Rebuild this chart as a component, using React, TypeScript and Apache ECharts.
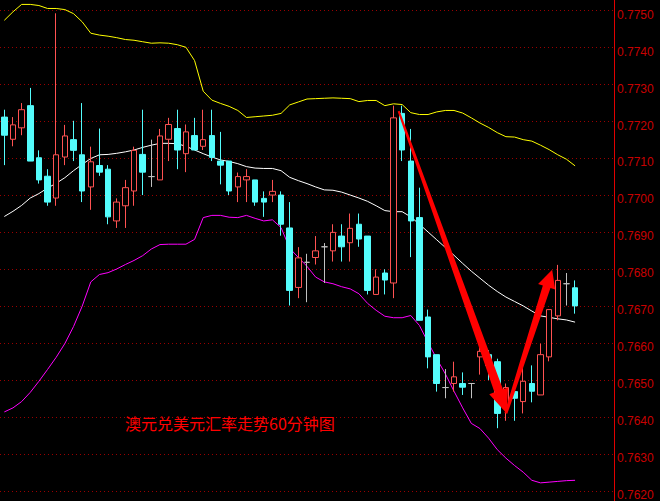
import React, { useEffect, useRef } from 'react';
import * as echarts from 'echarts';

// 71 hourly slots (the last few are empty space before the price axis)
const CATEGORIES: string[] = Array.from({ length: 71 }, (_, i) => `H${i + 1}`);

const OPEN = [
  0.77212, 0.77152, 0.77183, 0.77243, 0.77102, 0.77052, 0.76993, 0.77104, 0.77151, 0.77110,
  0.77023, 0.77081, 0.77071, 0.76931, 0.76972, 0.77012, 0.77111, 0.77051, 0.77042, 0.77152,
  0.77181, 0.77113, 0.77162, 0.77133, 0.77162, 0.77093, 0.77093, 0.77023, 0.77042, 0.77042,
  0.76992, 0.77001, 0.77001, 0.76912, 0.76751, 0.76819, 0.76832, 0.76861, 0.76850, 0.76890,
  0.76872, 0.76922, 0.76890, 0.76732, 0.76790, 0.76763, 0.77222, 0.77093, 0.76940, 0.76671,
  0.76569, 0.76480, 0.76491, 0.76491, 0.76491, 0.76563, 0.76569, 0.76550, 0.76424, 0.76469,
  0.76442, 0.76491, 0.76460, 0.76563, 0.76674, 0.76761, 0.76750,
];
const CLOSE = [
  0.77163, 0.77191, 0.77232, 0.77093, 0.77042, 0.76982, 0.77110, 0.77161, 0.77122, 0.77012,
  0.77091, 0.77063, 0.76942, 0.76982, 0.77021, 0.77122, 0.77063, 0.77051, 0.77161, 0.77192,
  0.77123, 0.77172, 0.77123, 0.77151, 0.77103, 0.77082, 0.77012, 0.77051, 0.77051, 0.76982,
  0.76982, 0.77011, 0.76922, 0.76743, 0.76831, 0.76819, 0.76850, 0.76861, 0.76900, 0.76861,
  0.76911, 0.76882, 0.76743, 0.76779, 0.76771, 0.77210, 0.77123, 0.76931, 0.76662, 0.76563,
  0.76491, 0.76480, 0.76509, 0.76481, 0.76491, 0.76578, 0.76540, 0.76410, 0.76480, 0.76451,
  0.76497, 0.76470, 0.76569, 0.76691, 0.76770, 0.76761, 0.76701,
];
const LOW = [
  0.77082, 0.77133, 0.77163, 0.77093, 0.77032, 0.76972, 0.76972, 0.77082, 0.77093, 0.76982,
  0.76961, 0.77053, 0.76922, 0.76912, 0.76912, 0.76972, 0.77001, 0.77023, 0.77042, 0.77093,
  0.77071, 0.77063, 0.77123, 0.77123, 0.77093, 0.77030, 0.77001, 0.76982, 0.76982, 0.76972,
  0.76942, 0.76982, 0.76891, 0.76702, 0.76722, 0.76711, 0.76813, 0.76763, 0.76821, 0.76821,
  0.76821, 0.76861, 0.76732, 0.76732, 0.76732, 0.76722, 0.77093, 0.76833, 0.76662, 0.76532,
  0.76469, 0.76451, 0.76469, 0.76460, 0.76451, 0.76515, 0.76500, 0.76370, 0.76390, 0.76390,
  0.76410, 0.76440, 0.76460, 0.76551, 0.76662, 0.76702, 0.76680,
];
const HIGH = [
  0.77232, 0.77212, 0.77250, 0.77291, 0.77122, 0.77071, 0.77493, 0.77191, 0.77202, 0.77250,
  0.77132, 0.77181, 0.77082, 0.76992, 0.77042, 0.77132, 0.77232, 0.77151, 0.77180, 0.77210,
  0.77232, 0.77192, 0.77210, 0.77232, 0.77232, 0.77172, 0.77093, 0.77062, 0.77071, 0.77042,
  0.77011, 0.77042, 0.77011, 0.76982, 0.76860, 0.76842, 0.76890, 0.76871, 0.76922, 0.76922,
  0.76951, 0.76951, 0.76890, 0.76800, 0.76800, 0.77243, 0.77243, 0.77180, 0.77021, 0.76691,
  0.76569, 0.76530, 0.76550, 0.76521, 0.76491, 0.76590, 0.76581, 0.76558, 0.76491, 0.76491,
  0.76540, 0.76540, 0.76599, 0.76691, 0.76812, 0.76790, 0.76770,
];

const BOLL_UPPER = [
  0.77474, 0.77497, 0.77517, 0.77517, 0.77514, 0.77506, 0.77506, 0.77503, 0.77492, 0.77470,
  0.77439, 0.77434, 0.77431, 0.77427, 0.77422, 0.77420, 0.77416, 0.77412, 0.77413, 0.77412,
  0.77408, 0.77401, 0.77365, 0.77282, 0.77258, 0.77249, 0.77241, 0.77230, 0.77211, 0.77213,
  0.77215, 0.77217, 0.77222, 0.77245, 0.77253, 0.77261, 0.77262, 0.77263, 0.77264, 0.77263,
  0.77262, 0.77254, 0.77257, 0.77257, 0.77243, 0.77248, 0.77246, 0.77224, 0.77219, 0.77219,
  0.77226, 0.77230, 0.77230, 0.77223, 0.77210, 0.77196, 0.77184, 0.77170, 0.77159, 0.77158,
  0.77151, 0.77147, 0.77136, 0.77124, 0.77110, 0.77098, 0.77080,
];
const BOLL_MID = [
  0.76943, 0.76957, 0.76973, 0.76993, 0.77005, 0.77020, 0.77033, 0.77048, 0.77067, 0.77084,
  0.77100, 0.77110, 0.77111, 0.77114, 0.77118, 0.77123, 0.77130, 0.77136, 0.77141, 0.77141,
  0.77140, 0.77133, 0.77123, 0.77113, 0.77104, 0.77096, 0.77092, 0.77086, 0.77078, 0.77074,
  0.77073, 0.77073, 0.77067, 0.77049, 0.77040, 0.77032, 0.77023, 0.77015, 0.77014, 0.77009,
  0.77001, 0.76993, 0.76984, 0.76972, 0.76959, 0.76956, 0.76956, 0.76942, 0.76922, 0.76901,
  0.76880, 0.76859, 0.76838, 0.76816, 0.76795, 0.76776, 0.76757, 0.76740, 0.76725, 0.76713,
  0.76701, 0.76687, 0.76674, 0.76670, 0.76666, 0.76663, 0.76657,
];
const BOLL_LOWER = [
  0.76414, 0.76425, 0.76442, 0.76467, 0.76497, 0.76529, 0.76562, 0.76599, 0.76645, 0.76700,
  0.76766, 0.76786, 0.76791, 0.76801, 0.76813, 0.76824, 0.76837, 0.76855, 0.76867, 0.76868,
  0.76868, 0.76868, 0.76881, 0.76940, 0.76946, 0.76946, 0.76941, 0.76940, 0.76946, 0.76938,
  0.76931, 0.76934, 0.76913, 0.76857, 0.76832, 0.76808, 0.76779, 0.76766, 0.76761, 0.76753,
  0.76747, 0.76734, 0.76708, 0.76689, 0.76673, 0.76669, 0.76669, 0.76675, 0.76648, 0.76602,
  0.76558, 0.76517, 0.76470, 0.76425, 0.76383, 0.76369, 0.76343, 0.76312, 0.76289, 0.76269,
  0.76251, 0.76229, 0.76222, 0.76224, 0.76226, 0.76228, 0.76229,
];

// price axis
const Y_MIN = 0.762;
const Y_MAX = 0.775;
const Y_STEP = 0.001;

// annotation: V-shaped arrows, [slot index, price]
const ARROW_DOWN_FROM: [number, number] = [45.6, 0.77228];
const ARROW_DOWN_TO: [number, number] = [58.1, 0.7641];
const ARROW_UP_FROM: [number, number] = [58.0, 0.7641];
const ARROW_UP_TO: [number, number] = [63.35, 0.76799];

const TITLE = '澳元兑美元汇率走势60分钟图';

function arrowPoints(
  t: number[], p: number[], w0: number, w1: number, headLen: number, headW: number
): number[][] {
  const dx = p[0] - t[0];
  const dy = p[1] - t[1];
  const len = Math.sqrt(dx * dx + dy * dy);
  const ux = dx / len, uy = dy / len;
  const nx = -uy, ny = ux;
  const bx = p[0] - ux * headLen, by = p[1] - uy * headLen;
  return [
    [t[0] + nx * w0 / 2, t[1] + ny * w0 / 2],
    [bx + nx * w1 / 2, by + ny * w1 / 2],
    [bx + nx * headW / 2, by + ny * headW / 2],
    [p[0], p[1]],
    [bx - nx * headW / 2, by - ny * headW / 2],
    [bx - nx * w1 / 2, by - ny * w1 / 2],
    [t[0] - nx * w0 / 2, t[1] - ny * w0 / 2],
  ];
}

export default function App() {
  const ref = useRef<HTMLDivElement>(null);

  useEffect(() => {
    document.body.style.margin = '0';
    document.body.style.background = '#000';
    if (!ref.current) return;
    const chart = echarts.init(ref.current, null, { renderer: 'svg' });

    const candleData = OPEN.map((o, i) => [o, CLOSE[i], LOW[i], HIGH[i]]);

    chart.setOption({
      animation: false,
      backgroundColor: '#000000',
      grid: { left: -1, right: 46, top: 10.7, bottom: 8 },
      xAxis: {
        type: 'category',
        data: CATEGORIES,
        boundaryGap: true,
        axisLine: { show: false },
        axisTick: { show: false },
        axisLabel: { show: false },
        splitLine: { show: false },
      },
      yAxis: {
        type: 'value',
        position: 'right',
        min: Y_MIN,
        max: Y_MAX,
        interval: Y_STEP,
        scale: true,
        axisLine: { show: false },
        axisTick: { show: false },
        axisLabel: {
          color: '#c80000',
          fontSize: 12,
          fontFamily: '"Liberation Sans", Arial, sans-serif',
          margin: 3,
          verticalAlign: 'top',
          lineHeight: 8,
          formatter: (v: number) => v.toFixed(4),
        },
        splitLine: {
          show: true,
          lineStyle: { color: '#9a0000', width: 1, type: [1, 3] },
        },
      },
      series: [
        {
          type: 'candlestick',
          data: candleData,
          barWidth: 6,
          itemStyle: {
            color: '#000000',
            borderColor: '#ff5252',
            color0: '#54fcfc',
            borderColor0: '#54fcfc',
            borderColorDoji: '#c0c0c0',
            borderWidth: 1,
          },
          z: 3,
        },
        {
          type: 'line',
          data: BOLL_UPPER,
          symbol: 'none',
          clip: false,
          lineStyle: { color: '#ffff00', width: 1 },
          z: 2,
        },
        {
          type: 'line',
          data: BOLL_MID,
          symbol: 'none',
          clip: false,
          lineStyle: { color: '#ffffff', width: 1 },
          z: 2,
        },
        {
          type: 'line',
          data: BOLL_LOWER,
          symbol: 'none',
          clip: false,
          lineStyle: { color: '#ff00ff', width: 1 },
          z: 2,
        },
      ],
    });

    const toPx = (pt: [number, number]) => {
      const i = Math.floor(pt[0]);
      const a = chart.convertToPixel({ gridIndex: 0 }, [i, pt[1]]) as number[];
      const b = chart.convertToPixel({ gridIndex: 0 }, [i + 1, pt[1]]) as number[];
      return [a[0] + (pt[0] - i) * (b[0] - a[0]), a[1]];
    };

    const down = arrowPoints(toPx(ARROW_DOWN_FROM), toPx(ARROW_DOWN_TO), 2, 9, 24, 20);
    const up = arrowPoints(toPx(ARROW_UP_FROM), toPx(ARROW_UP_TO), 3, 8, 18, 18);

    chart.setOption({
      graphic: [
        {
          type: 'line',
          shape: { x1: 614.5, y1: 0, x2: 614.5, y2: 501 },
          style: { stroke: '#e00000', lineWidth: 1 },
          z: 10,
        },
        {
          type: 'polygon',
          shape: { points: down },
          style: { fill: '#ff0000' },
          z: 20,
        },
        {
          type: 'polygon',
          shape: { points: up },
          style: { fill: '#ff0000' },
          z: 20,
        },
        {
          type: 'text',
          x: 125,
          y: 415,
          style: {
            text: TITLE,
            fill: '#ff0000',
            fontSize: 16,
            fontFamily: '"Noto Sans CJK SC", sans-serif',
            verticalAlign: 'top',
            align: 'left',
          },
          z: 20,
        },
      ],
    });

    return () => {
      chart.dispose();
    };
  }, []);

  return <div ref={ref} style={{ width: 660, height: 501 }} />;
}
